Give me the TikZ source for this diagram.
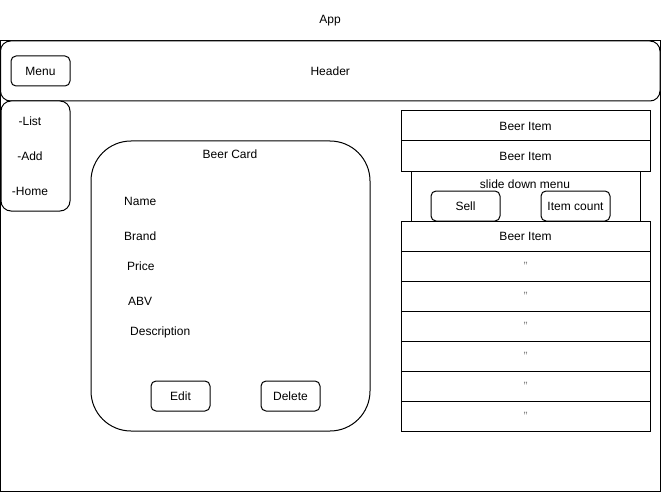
\documentclass[tikz,border=0pt]{standalone}
\usepackage{fontspec}
\setmainfont{Liberation Sans}

\tikzset{
    lbl/.style={font=\fontsize{12}{14}\selectfont, inner sep=0pt, text height=8.5pt, text depth=0pt},
    box/.style={draw, line width=1pt, lbl},
    rbox/.style={box, rounded corners=5pt},
}

\begin{document}
\begin{tikzpicture}[x=1pt, y=-1pt]
            \useasboundingbox (0,0) rectangle (661,492);
            % app frame and header
            \node[lbl] (app) at (330,19) {App};
            \draw[line width=1pt] (0.5,41) rectangle (660,491);
            \node[box, rounded corners=10pt, minimum width=659.5pt, minimum height=60pt, fill=white] (header) at (330.25,71) {Header};
            \node[rbox, minimum width=59pt, minimum height=30pt] (menu) at (40.5,71) {Menu};

            % side nav
            \node[box, rounded corners=10pt, minimum width=69pt, minimum height=110pt, fill=white] (nav) at (35.5,156) {};
            \node[lbl] (list) at (30,121) {-List};
            \node[lbl] (add) at (30,156) {-Add};
            \node[lbl] (home) at (30,191) {-Home};

            % beer card
            \node[box, rounded corners=40pt, minimum width=279pt, minimum height=290pt] (card) at (230.5,286) {};
            \node[lbl] (cardtitle) at (230,154) {Beer Card};
            \node[lbl, anchor=west] (name) at (124,201) {Name};
            \node[lbl, anchor=west] (brand) at (124,236) {Brand};
            \node[lbl, anchor=west] (price) at (127,266) {Price};
            \node[lbl, anchor=west] (abv) at (128,301) {ABV};
            \node[lbl, anchor=west] (desc) at (130,331) {Description};
            \node[rbox, minimum width=59pt, minimum height=30pt] (edit) at (180.5,396) {Edit};
            \node[rbox, minimum width=59pt, minimum height=30pt] (delete) at (290.5,396) {Delete};

            % beer list
            \node[box, minimum width=249pt, minimum height=30pt] (item1) at (525.5,126) {Beer Item};
            \node[box, minimum width=249pt, minimum height=30pt] (item2) at (525.5,156) {Beer Item};
            \node[box, minimum width=229pt, minimum height=50pt] (slide) at (525.5,196) {};
            \node[lbl] (slidetitle) at (525,184) {slide down menu};
            \node[rbox, minimum width=69pt, minimum height=30pt] (sell) at (465.5,206) {Sell};
            \node[rbox, minimum width=69pt, minimum height=30pt] (count) at (575.5,206) {Item count};
            \node[box, minimum width=249pt, minimum height=30pt, fill=white] (item3) at (525.5,236) {Beer Item};
            \foreach \i in {1,...,6}
                {\node[box, minimum width=249pt, minimum height=30pt] (more\i) at (525.5,{236+30*\i}) {\textcolor{gray}{\symbol{34}}};}
        \end{tikzpicture}
\end{document}
